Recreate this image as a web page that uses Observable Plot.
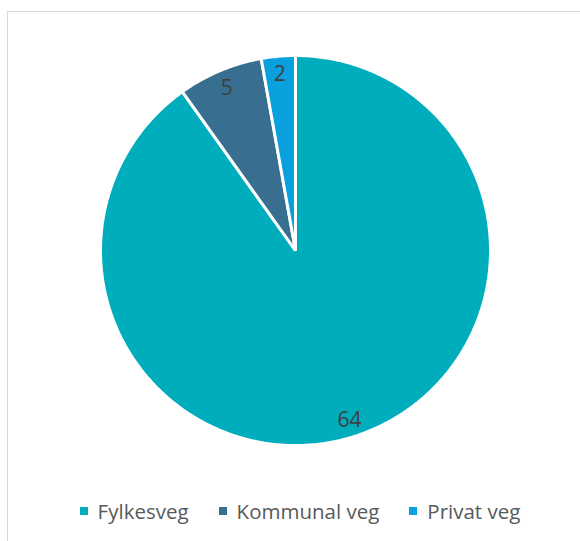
<!DOCTYPE html>
<html>
<head>
<meta charset="utf-8">
<script src="https://cdn.jsdelivr.net/npm/d3@7"></script>
<script src="https://cdn.jsdelivr.net/npm/@observablehq/plot@0.6"></script>
<style>
  html, body { margin: 0; padding: 0; background: #fff; }
  body { width: 580px; height: 541px; overflow: hidden; position: relative; font-family: "Open Sans", sans-serif; }
  #frame { position: absolute; left: 7px; top: 11px; width: 600px; height: 560px; border: 1.5px solid #d9d9d9; box-sizing: border-box; }
  #chart { position: absolute; left: 0; top: 0; }
  #legend { position: absolute; left: 0; top: 497px; width: 600px; display: flex; justify-content: center; gap: 30px; font-size: 20.5px; color: #595959; }
  .item { display: flex; align-items: center; }
  .sw { width: 8px; height: 8px; margin-right: 10px; }
</style>
</head>
<body>
<div id="frame"></div>
<div id="chart"></div>
<div id="legend"></div>
<script>
const categories = ["Fylkesveg", "Kommunal veg", "Privat veg"];
const values = [64, 5, 2];
const colors = ["#00adbd", "#386e8f", "#0a9fdd"];

const data = categories.map((c, i) => ({name: c, value: values[i]}));
const arcs = d3.pie().sort(null).value(d => d.value)(data);

// slice outlines in unit-circle data space (angle 0 at top, clockwise)
const poly = [];
for (const a of arcs) {
  poly.push({name: a.data.name, x: 0, y: 0});
  const n = Math.max(2, Math.ceil((a.endAngle - a.startAngle) / 0.01));
  for (let k = 0; k <= n; k++) {
    const t = a.startAngle + (a.endAngle - a.startAngle) * k / n;
    poly.push({name: a.data.name, x: Math.sin(t), y: Math.cos(t)});
  }
}
const labels = arcs.map(a => {
  const m = (a.startAngle + a.endAngle) / 2;
  return {name: a.data.name, value: a.data.value, x: 0.91 * Math.sin(m), y: 0.91 * Math.cos(m)};
});

const plot = Plot.plot({
  width: 580,
  height: 490,
  marginLeft: 100,
  marginRight: 90,
  marginTop: 55,
  marginBottom: 45,
  x: {domain: [-1, 1], axis: null},
  y: {domain: [-1, 1], axis: null},
  color: {domain: categories, range: colors},
  marks: [
    Plot.line(poly, {x: "x", y: "y", z: "name", fill: "name", stroke: "white", strokeWidth: 3, curve: "linear-closed", strokeLinejoin: "miter"}),
    Plot.text(labels, {x: "x", y: "y", text: d => String(d.value), fill: "#404040", fontSize: 21, fontFamily: "Open Sans", dy: 1})
  ],
  style: {background: "transparent", overflow: "visible"}
});
document.getElementById("chart").appendChild(plot);

const legend = document.getElementById("legend");
categories.forEach((c, i) => {
  const it = document.createElement("div");
  it.className = "item";
  const sw = document.createElement("div");
  sw.className = "sw";
  sw.style.background = colors[i];
  const tx = document.createElement("span");
  tx.textContent = c;
  it.appendChild(sw);
  it.appendChild(tx);
  legend.appendChild(it);
});
</script>
</body>
</html>
